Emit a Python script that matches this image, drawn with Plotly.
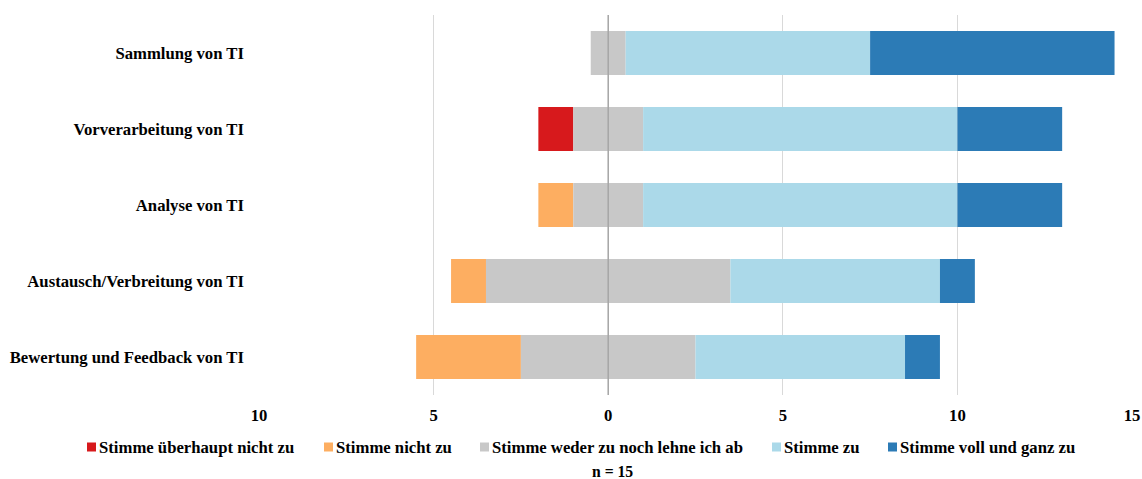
import numpy as np
import plotly.graph_objects as go

# Survey items (top to bottom) and response counts per answer category
categories = [
    "Sammlung von TI",
    "Vorverarbeitung von TI",
    "Analyse von TI",
    "Austausch/Verbreitung von TI",
    "Bewertung und Feedback von TI",
]
strongly_disagree = [0, 1, 0, 0, 0]
disagree = [0, 0, 1, 1, 3]
neutral = [1, 2, 2, 7, 5]
agree = [7, 9, 9, 6, 6]
strongly_agree = [7, 3, 3, 1, 1]

series_names = [
    "Stimme überhaupt nicht zu",
    "Stimme nicht zu",
    "Stimme weder zu noch lehne ich ab",
    "Stimme zu",
    "Stimme voll und ganz zu",
]
colors = ["#d7191c", "#fdae61", "#c8c8c8", "#abd9e9", "#2c7bb6"]

tick_vals = [-10, -5, 0, 5, 10, 15]
tick_text = ["10", "5", "0", "5", "10", "15"]
sample_note = "n = 15"

FONT = "Liberation Serif"
FONT_SIZE = 16.7

# Canvas and plot-area geometry (pixels)
W, H = 1142, 479
ML, MR, MT, MB = 259, 10, 15, 84
PW, PH = W - ML - MR, H - MT - MB


def px_x(px):
    return (px - ML) / PW


def px_y(py):
    return (H - MB - py) / PH


# Diverging layout: neutral answers centred on zero
values = np.array([strongly_disagree, disagree, neutral, agree, strongly_agree], dtype=float)
left_edge = -(values[0] + values[1] + values[2] / 2)
bases = left_edge + np.vstack([np.zeros(len(categories)), np.cumsum(values, axis=0)[:-1]])

fig = go.Figure()
for name, color, vals, base in zip(series_names, colors, values, bases):
    fig.add_trace(go.Bar(
        y=categories,
        x=vals,
        base=base,
        orientation="h",
        name=name,
        marker=dict(color=color, line=dict(width=0)),
        hoverinfo="x+y+name",
        showlegend=False,
    ))

# Zero reference line on top of the bars
fig.add_shape(type="line", xref="x", yref="paper", x0=0, x1=0, y0=0, y1=1,
              line=dict(color="#a6a6a6", width=1.5), layer="above")

# Legend row below the axis: square swatch followed by its label
legend_swatch_px = [87, 324, 480, 772, 888]
legend_y_px = 447
swatch = 9
for name, color, sx in zip(series_names, colors, legend_swatch_px):
    fig.add_shape(type="rect", xref="paper", yref="paper",
                  x0=px_x(sx), x1=px_x(sx + swatch),
                  y0=px_y(legend_y_px + swatch / 2), y1=px_y(legend_y_px - swatch / 2),
                  fillcolor=color, line=dict(width=0), layer="above")
    fig.add_annotation(text=f"<b>{name}</b>", xref="paper", yref="paper",
                       x=px_x(sx + swatch + 2), y=px_y(legend_y_px),
                       xanchor="left", yanchor="middle", showarrow=False,
                       borderpad=0,
                       font=dict(family=FONT, size=FONT_SIZE, color="#000"))

fig.add_annotation(text=f"<b>{sample_note}</b>", xref="paper", yref="paper",
                   x=px_x(612), y=px_y(471), xanchor="center", yanchor="middle",
                   showarrow=False, borderpad=0,
                   font=dict(family=FONT, size=FONT_SIZE - 1, color="#000"))

fig.update_layout(
    width=W, height=H,
    margin=dict(l=ML, r=MR, t=MT, b=MB, autoexpand=False),
    barmode="overlay",
    bargap=0.42,
    plot_bgcolor="white",
    paper_bgcolor="white",
    font=dict(family=FONT, size=FONT_SIZE, color="#000"),
    showlegend=False,
    xaxis=dict(
        range=[-10, 15],
        tickvals=tick_vals, ticktext=tick_text,
        showgrid=True, gridcolor="#d9d9d9", gridwidth=1,
        zeroline=False, showline=False, ticks="",
        tickfont=dict(family=FONT, size=FONT_SIZE, color="#000", weight="bold"),
        ticklabelstandoff=8,
        automargin=False,
    ),
    yaxis=dict(
        categoryorder="array", categoryarray=categories[::-1],
        showgrid=False, zeroline=False, showline=False, ticks="",
        tickfont=dict(family=FONT, size=FONT_SIZE, color="#000", weight="bold"),
        ticklabelstandoff=14,
        automargin=False,
    ),
)

fig.write_html("out.html")
